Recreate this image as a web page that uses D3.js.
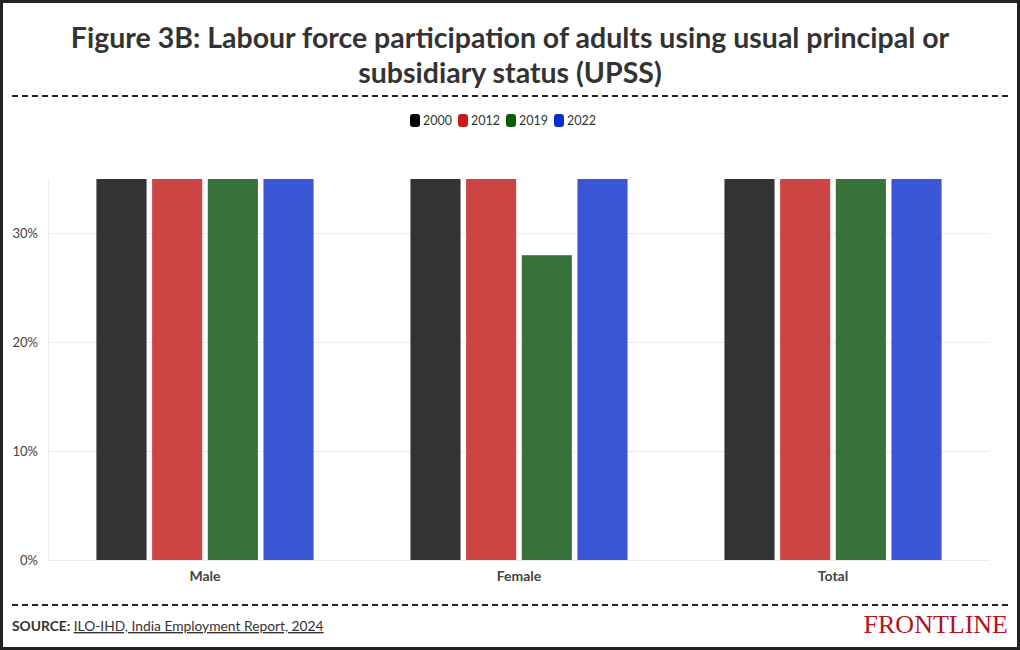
<!DOCTYPE html>
<html>
<head>
<meta charset="utf-8">
<script src="https://cdn.jsdelivr.net/npm/d3@7"></script>
<style>
html,body{margin:0;padding:0;background:#fff;}
svg{display:block;}
</style>
</head>
<body>
<svg id="chart" width="1020" height="650"></svg>
<script>
const categories = ["Male", "Female", "Total"];
const years = ["2000", "2012", "2019", "2022"];
const values2000 = [84.6, 38.9, 62.0];
const values2012 = [80.1, 35.4, 58.2];
const values2019 = [76.8, 28.0, 52.6];
const values2022 = [78.5, 37.0, 58.0];
const yTicks = [0, 10, 20, 30];
const barColors = ["#333333", "#cc4444", "#38723a", "#3a55d6"];
const legendColors = ["#000000", "#cc1a1a", "#0b5a0b", "#0a2dd0"];

const seriesValues = [values2000, values2012, values2019, values2022];
const data = categories.map((c, i) => ({
  cat: c,
  vals: years.map((y, j) => ({year: y, value: seriesValues[j][i], idx: j}))
}));

const W = 1020, H = 650;
const svg = d3.select("#chart");
const font = "'Source Sans Pro', Lato, 'Noto Sans', sans-serif";

// border
svg.append("rect").attr("x", 1.5).attr("y", 1.5).attr("width", W - 3).attr("height", H - 3)
  .attr("fill", "#fff").attr("stroke", "#222").attr("stroke-width", 3);

// title
const title = svg.append("text").attr("text-anchor", "middle").attr("font-family", font)
  .attr("font-weight", 700).attr("font-size", 28.5).attr("fill", "#333");
title.append("tspan").attr("x", W / 2).attr("y", 48).text("Figure 3B: Labour force participation of adults using usual principal or");
title.append("tspan").attr("x", W / 2).attr("y", 83).text("subsidiary status (UPSS)");

// dashed separators
[96, 605].forEach(y => {
  svg.append("line").attr("x1", 12).attr("x2", 1008).attr("y1", y).attr("y2", y)
    .attr("stroke", "#222").attr("stroke-width", 2).attr("stroke-dasharray", "6,4");
});

// legend
const legend = svg.append("g").attr("font-family", font).attr("font-size", 12.5).attr("fill", "#333");
let lx = 410;
years.forEach((y, i) => {
  legend.append("rect").attr("x", lx).attr("y", 114).attr("width", 10).attr("height", 13)
    .attr("rx", 3).attr("fill", legendColors[i]);
  legend.append("text").attr("x", lx + 13).attr("y", 125).text(y);
  lx += 48;
});

// scales
const margin = {left: 48, right: 990, top: 179, bottom: 560};
const y = d3.scaleLinear().domain([0, 35]).range([margin.bottom, margin.top]);
const x0 = d3.scaleBand().domain(categories).range([margin.left, margin.right]).paddingInner(0).paddingOuter(0);
const x1 = d3.scaleBand().domain(years).range([0, x0.bandwidth()]).paddingInner(0.1).paddingOuter(0.87);

// grid
const grid = svg.append("g");
grid.selectAll("line.h").data(yTicks).join("line")
  .attr("x1", margin.left).attr("x2", margin.right)
  .attr("y1", d => Math.round(y(d)) + 0.5).attr("y2", d => Math.round(y(d)) + 0.5)
  .attr("stroke", "#ebebeb").attr("stroke-width", 1);
grid.append("line").attr("x1", margin.left + 0.5).attr("x2", margin.left + 0.5)
  .attr("y1", margin.top).attr("y2", margin.bottom).attr("stroke", "#ebebeb");

// y axis labels
const yAxis = d3.axisLeft(y).tickValues(yTicks).tickFormat(d => d + "%").tickSize(0).tickPadding(10);
const ya = svg.append("g").attr("transform", `translate(${margin.left},0)`).call(yAxis);
ya.select(".domain").remove();
ya.selectAll("text").attr("font-family", font).attr("font-size", 13).attr("fill", "#444");

// clip
svg.append("clipPath").attr("id", "plotclip").append("rect")
  .attr("x", margin.left).attr("y", margin.top).attr("width", margin.right - margin.left)
  .attr("height", margin.bottom - margin.top);

const groups = svg.append("g").attr("clip-path", "url(#plotclip)")
  .selectAll("g").data(data).join("g")
  .attr("transform", d => `translate(${x0(d.cat)},0)`);
groups.selectAll("rect").data(d => d.vals).join("rect")
  .attr("x", d => x1(d.year))
  .attr("width", x1.bandwidth())
  .attr("y", d => y(d.value))
  .attr("height", d => y(0) - y(d.value))
  .attr("fill", d => barColors[d.idx]);

// x axis labels
const xAxis = d3.axisBottom(x0).tickSize(0).tickPadding(11);
const xa = svg.append("g").attr("transform", `translate(0,${margin.bottom})`).call(xAxis);
xa.select(".domain").remove();
xa.selectAll("text").attr("font-family", font).attr("font-size", 14).attr("font-weight", 700).attr("fill", "#444");

// source
const src = svg.append("text").attr("x", 12).attr("y", 631).attr("font-family", font)
  .attr("font-size", 13.8).attr("fill", "#333");
src.append("tspan").attr("font-weight", 700).text("SOURCE: ");
src.append("tspan").attr("text-decoration", "underline").text("ILO-IHD, India Employment Report, 2024");

// logo
svg.append("text").attr("x", 1008).attr("y", 633).attr("text-anchor", "end")
  .attr("font-family", "'Liberation Serif', 'DejaVu Serif', serif").attr("font-size", 26)
  .attr("fill", "#b5121b").text("FRONTLINE");
</script>
</body>
</html>
